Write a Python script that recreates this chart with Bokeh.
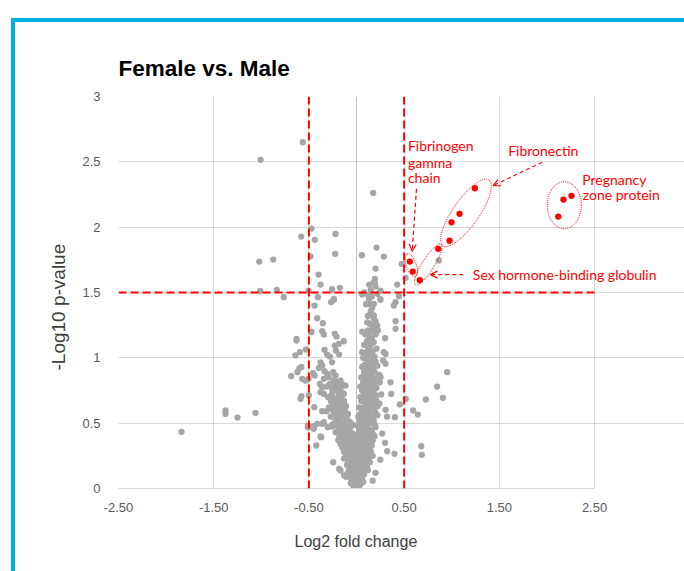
import math
from bokeh.plotting import figure
from bokeh.models import Range1d, FixedTicker, Span, Label, Arrow, OpenHead, InlineStyleSheet, Title
from bokeh.embed import file_html
from bokeh.resources import INLINE

# ---------------- data ----------------
x_ticks = [-2.5, -1.5, -0.5, 0.5, 1.5, 2.5]
x_tick_labels = ["-2.50", "-1.50", "-0.50", "0.50", "1.50", "2.50"]
y_ticks = [0, 0.5, 1, 1.5, 2, 2.5, 3]
y_tick_labels = ["0", "0.5", "1", "1.5", "2", "2.5", "3"]
x_min, x_max = -2.5, 2.5
y_min, y_max = 0, 3

fc_cutoffs = [-0.5, 0.5]
p_cutoff = 1.5

upper_points = [(-0.564, 2.650), (-1.008, 2.515), (0.175, 2.262), (-0.473, 1.989), (-0.581, 1.928),
                (-0.438, 1.903), (-0.221, 1.948), (0.210, 1.844), (-1.022, 1.737), (-0.875, 1.752),
                (-0.483, 1.777), (-0.224, 1.796), (0.056, 1.785), (0.287, 1.775), (0.200, 1.683),
                (0.476, 1.719), (0.515, 1.612), (-0.399, 1.637), (-0.378, 1.561), (0.193, 1.604),
                (0.193, 1.571), (0.133, 1.561), (-0.256, 1.525), (-0.175, 1.536), (-1.012, 1.512),
                (-0.837, 1.520), (-0.764, 1.464), (-0.504, 1.515), (-0.406, 1.464), (0.427, 1.561),
                (0.445, 1.472), (0.08, 1.50), (0.12, 1.48), (0.15, 1.52), (0.22, 1.49), (0.25, 1.45),
                (-0.238, 1.451), (0.865, 1.745), (0.182, 1.578), (0.200, 1.546), (0.060, 1.484),
                (0.252, 1.515)]

left_points = [(-1.838, 0.434), (-1.376, 0.597), (-1.376, 0.571), (-1.250, 0.543), (-1.061, 0.579),
               (-0.630, 1.145), (-0.630, 1.132), (-0.641, 1.018), (-0.595, 1.043), (-0.532, 1.064),
               (-0.686, 0.860), (-0.62, 0.89), (-0.60, 0.92), (-0.58, 0.93), (-0.571, 0.839),
               (-0.536, 0.826), (-0.588, 0.686), (-0.578, 0.706), (-0.504, 0.839), (-0.501, 0.712),
               (-0.476, 1.196), (-0.511, 0.482), (-0.511, 0.469), (-0.444, 0.622), (-0.423, 0.329),
               (-0.448, 0.477), (-0.413, 0.495), (-0.371, 0.393), (-0.245, 0.201), (-0.182, 0.150)]

mid_left_points = [(-0.266, 1.426), (-0.238, 1.444), (-0.441, 1.400), (-0.413, 1.303), (-0.354, 1.265),
                   (-0.473, 1.201), (-0.360, 1.204), (-0.343, 1.178), (-0.228, 1.184), (-0.210, 1.163),
                   (-0.133, 1.127), (-0.186, 1.107), (-0.228, 1.094), (-0.336, 1.061), (-0.308, 1.025),
                   (-0.217, 1.056), (-0.182, 1.025), (-0.378, 0.966), (-0.360, 0.941), (-0.396, 0.923),
                   (-0.280, 1.010), (-0.256, 0.966), (-0.455, 0.882), (-0.441, 0.865), (-0.336, 0.898),
                   (-0.308, 0.878), (-0.291, 0.852), (-0.343, 0.839), (-0.245, 0.890), (-0.221, 0.865),
                   (-0.238, 0.826), (-0.168, 0.826), (-0.150, 0.796), (-0.386, 0.801), (-0.315, 0.780),
                   (-0.360, 0.775), (-0.291, 0.788), (-0.256, 0.763), (-0.203, 0.788), (-0.161, 0.780),
                   (-0.116, 0.788), (-0.378, 0.737), (-0.343, 0.724), (-0.266, 0.712), (-0.238, 0.686),
                   (-0.256, 0.660), (-0.221, 0.643), (-0.150, 0.724), (-0.133, 0.673), (-0.186, 0.635),
                   (-0.360, 0.592), (-0.315, 0.592), (-0.203, 0.584), (-0.168, 0.571), (-0.343, 0.507),
                   (-0.360, 0.495), (-0.465, 0.469), (-0.448, 0.457), (-0.301, 0.469), (-0.256, 0.474),
                   (-0.378, 0.398), (-0.186, 0.380), (-0.168, 0.342), (-0.150, 0.316), (-0.168, 0.138),
                   (-0.13, 0.10), (-0.11, 0.09), (-0.133, 0.724)]

mid_right_points = [(0.130, 1.413), (0.182, 1.413), (0.165, 1.383), (0.252, 1.444), (0.410, 1.426),
                    (0.392, 1.400), (0.147, 1.337), (0.182, 1.324), (0.112, 1.272), (0.200, 1.280),
                    (0.217, 1.247), (0.410, 1.280), (0.410, 1.222), (0.165, 1.209), (0.224, 1.209),
                    (0.200, 1.184), (0.287, 1.043), (0.305, 1.030), (0.060, 1.043), (0.305, 0.954),
                    (0.952, 0.890), (0.357, 0.813), (0.847, 0.780), (0.252, 0.852), (0.907, 0.694),
                    (0.728, 0.681), (0.518, 0.686), (0.455, 0.643), (0.595, 0.597), (0.644, 0.566),
                    (0.403, 0.546), (0.680, 0.324), (0.686, 0.258), (0.322, 0.285), (0.399, 0.265),
                    (0.305, 0.602), (0.364, 0.724), (0.245, 0.813), (0.210, 0.668), (0.30, 1.15),
                    (0.28, 0.98), (0.26, 0.72), (0.32, 0.55), (0.27, 0.42), (0.30, 0.35), (0.25, 0.22),
                    (0.20, 0.12), (0.17, 0.06)]

right_arm = [(0.13, 1.45), (0.16, 1.47), (0.10, 1.41), (0.15, 1.36), (0.12, 1.32), (0.18, 1.30),
             (0.14, 1.26), (0.17, 1.23), (0.12, 1.21), (0.19, 1.25), (0.13, 1.17), (0.16, 1.15),
             (0.11, 1.13), (0.18, 1.12), (0.15, 1.10), (0.12, 1.08), (0.14, 1.06), (0.17, 1.05),
             (0.10, 1.04), (0.13, 1.02), (0.19, 1.01), (0.11, 0.99), (0.14, 0.97), (0.16, 0.96),
             (0.09, 0.95), (0.12, 0.93), (0.18, 0.92), (0.10, 0.91), (0.15, 0.90), (0.22, 0.94),
             (0.08, 0.89), (0.12, 0.88), (0.14, 0.86), (0.17, 0.85), (0.10, 0.84), (0.13, 0.83),
             (0.20, 0.82), (0.07, 0.81), (0.16, 0.80), (0.24, 0.87), (0.09, 0.79), (0.11, 0.77),
             (0.14, 0.76), (0.06, 0.75), (0.18, 0.74), (0.12, 0.73), (0.08, 0.72), (0.15, 0.71),
             (0.21, 0.77), (0.10, 0.70), (0.07, 0.69), (0.13, 0.68), (0.05, 0.67), (0.16, 0.66),
             (0.09, 0.65), (0.11, 0.63), (0.19, 0.62), (0.06, 0.61), (0.14, 0.60), (0.24, 0.65),
             (0.08, 0.59), (0.12, 0.58), (0.04, 0.57), (0.10, 0.55), (0.15, 0.54), (0.06, 0.53),
             (0.18, 0.52), (0.09, 0.51), (0.13, 0.50), (0.22, 0.56), (0.03, 0.52), (0.05, 0.49),
             (0.11, 0.48), (0.07, 0.46), (0.14, 0.45), (0.03, 0.44), (0.09, 0.43), (0.17, 0.42),
             (0.05, 0.41), (0.12, 0.40), (0.20, 0.47), (0.02, 0.39), (0.08, 0.38), (0.06, 0.36),
             (0.11, 0.35), (0.04, 0.34), (0.14, 0.33), (0.09, 0.32), (0.02, 0.31), (0.17, 0.37),
             (0.12, 0.30), (0.05, 0.29), (0.08, 0.27), (0.03, 0.26), (0.10, 0.25), (0.06, 0.24),
             (0.13, 0.23), (0.01, 0.22), (0.08, 0.21), (0.15, 0.28), (0.04, 0.20), (0.02, 0.19),
             (0.06, 0.18), (0.04, 0.16), (0.09, 0.15), (0.01, 0.14), (0.07, 0.13), (0.03, 0.12),
             (0.11, 0.17), (0.05, 0.11), (0.00, 0.10), (0.02, 0.09), (0.04, 0.07), (0.01, 0.06),
             (0.03, 0.05), (0.00, 0.04), (0.02, 0.03), (0.01, 0.02), (0.00, 0.01), (0.05, 0.08)]

right_arm_fill = [(0.06, 1.20), (0.09, 1.18), (0.20, 1.18), (0.08, 1.10), (0.21, 1.07), (0.07, 1.00),
                  (0.17, 0.99), (0.20, 0.97), (0.13, 0.95), (0.06, 0.93), (0.19, 0.89), (0.11, 0.86),
                  (0.05, 0.85), (0.22, 0.84), (0.16, 0.83), (0.13, 0.79), (0.19, 0.78), (0.04, 0.78),
                  (0.16, 0.75), (0.21, 0.71), (0.12, 0.70), (0.04, 0.70), (0.18, 0.68), (0.10, 0.67),
                  (0.22, 0.63), (0.08, 0.62), (0.16, 0.62), (0.03, 0.62), (0.12, 0.61), (0.20, 0.58),
                  (0.06, 0.57), (0.17, 0.56), (0.02, 0.55), (0.11, 0.53), (0.15, 0.50), (0.07, 0.50),
                  (0.19, 0.49), (0.01, 0.48), (0.10, 0.45), (0.16, 0.44), (0.07, 0.42), (0.13, 0.42),
                  (0.01, 0.41), (0.19, 0.40), (0.10, 0.39), (0.15, 0.38), (0.04, 0.37), (0.13, 0.36),
                  (0.07, 0.34), (0.16, 0.33), (0.01, 0.34), (0.11, 0.32), (0.05, 0.31), (0.14, 0.30),
                  (0.09, 0.29), (0.01, 0.28), (0.12, 0.27), (0.06, 0.27), (0.17, 0.25), (0.03, 0.23),
                  (0.11, 0.22), (0.05, 0.22), (0.14, 0.20), (0.09, 0.19), (0.01, 0.17), (0.12, 0.14),
                  (0.04, 0.13), (0.08, 0.11), (0.02, 0.11), (0.06, 0.09), (0.03, 0.08), (0.07, 0.05),
                  (0.04, 0.03), (0.02, 0.01)]

left_arm = [(-0.22, 0.82), (-0.19, 0.80), (-0.24, 0.78), (-0.17, 0.76), (-0.21, 0.75), (-0.14, 0.73),
            (-0.26, 0.72), (-0.19, 0.71), (-0.16, 0.69), (-0.22, 0.68), (-0.13, 0.66), (-0.18, 0.65),
            (-0.24, 0.64), (-0.11, 0.63), (-0.20, 0.62), (-0.15, 0.61), (-0.12, 0.59), (-0.17, 0.58),
            (-0.09, 0.57), (-0.21, 0.56), (-0.14, 0.55), (-0.10, 0.53), (-0.18, 0.52), (-0.07, 0.51),
            (-0.13, 0.50), (-0.09, 0.49), (-0.15, 0.48), (-0.06, 0.47), (-0.11, 0.46), (-0.19, 0.45),
            (-0.08, 0.44), (-0.13, 0.43), (-0.04, 0.42), (-0.10, 0.41), (-0.16, 0.40), (-0.07, 0.39),
            (-0.12, 0.38), (-0.03, 0.37), (-0.09, 0.36), (-0.14, 0.35), (-0.05, 0.34), (-0.10, 0.33),
            (-0.02, 0.32), (-0.07, 0.31), (-0.12, 0.30), (-0.04, 0.29), (-0.09, 0.28), (-0.01, 0.27),
            (-0.06, 0.26), (-0.11, 0.25), (-0.03, 0.24), (-0.08, 0.23), (-0.05, 0.21), (-0.01, 0.20),
            (-0.03, 0.19), (-0.06, 0.18), (-0.02, 0.16), (-0.04, 0.15), (-0.07, 0.14), (-0.01, 0.13),
            (-0.03, 0.12), (-0.05, 0.11), (-0.02, 0.10), (-0.01, 0.09), (-0.03, 0.08), (-0.02, 0.06),
            (-0.01, 0.05), (-0.02, 0.03), (-0.01, 0.02), (-0.03, 0.04)]

left_arm_fill = [(-0.28, 0.80), (-0.25, 0.75), (-0.30, 0.70), (-0.27, 0.67), (-0.19, 0.67), (-0.29, 0.62),
                 (-0.25, 0.60), (-0.17, 0.62), (-0.23, 0.58), (-0.27, 0.55), (-0.16, 0.55), (-0.12, 0.56),
                 (-0.22, 0.52), (-0.25, 0.49), (-0.20, 0.48), (-0.17, 0.46), (-0.04, 0.49), (-0.22, 0.43),
                 (-0.18, 0.41), (-0.07, 0.43), (-0.13, 0.40), (-0.19, 0.37), (-0.16, 0.36), (-0.04, 0.39),
                 (-0.11, 0.35), (-0.08, 0.34), (-0.15, 0.32), (-0.13, 0.28), (-0.05, 0.27), (-0.10, 0.27),
                 (-0.13, 0.23), (-0.09, 0.21), (-0.02, 0.22), (-0.06, 0.20), (-0.10, 0.18), (-0.08, 0.16),
                 (-0.04, 0.17), (-0.06, 0.13), (-0.09, 0.12), (-0.04, 0.10), (-0.07, 0.09), (-0.05, 0.07),
                 (-0.04, 0.05), (-0.06, 0.04), (-0.03, 0.02), (-0.02, 0.00)]

fibronectin = [(1.243, 2.298), (1.082, 2.102), (0.998, 2.037), (0.977, 1.897)]
shbg = [(0.858, 1.834), (0.665, 1.594)]
fibrinogen_gamma = [(0.560, 1.737), (0.591, 1.660)]
pregnancy_zone = [(2.258, 2.240), (2.174, 2.211), (2.119, 2.081)]

# ---------------- figure ----------------
GRAY = "#A6A6A6"
RED = "#FF0000"
GRID = "#D9D9D9"

# frame reaches the right edge of the page so that labels past 2.5 stay visible
p = figure(width=684, height=571, output_backend="svg", toolbar_location=None,
           x_range=Range1d(x_min, x_max + 0.945), y_range=Range1d(y_min, y_max),
           min_border_left=118, min_border_right=0, min_border_top=96, min_border_bottom=83,
           background_fill_color="white", border_fill_color="white")

p.title.text = "Female vs. Male"
p.title.text_font = "Liberation Sans"
p.title.text_font_size = "22.5px"
p.title.text_font_style = "bold"
p.title.text_color = "black"
p.title.align = "left"
p.title.standoff = 31

p.outline_line_color = None

p.xgrid.ticker = FixedTicker(ticks=x_ticks)
p.ygrid.ticker = FixedTicker(ticks=y_ticks)
p.ygrid.bounds = (x_min, x_max)
p.grid.grid_line_color = GRID
p.grid.grid_line_width = 1

for ax in (p.xaxis[0], p.yaxis[0]):
    ax.major_tick_line_color = None
    ax.minor_tick_line_color = None
    ax.major_label_text_font = "Liberation Sans"
    ax.major_label_text_font_size = "13px"
    ax.major_label_text_color = "#595959"

p.xaxis.ticker = FixedTicker(ticks=x_ticks)
p.xaxis.major_label_overrides = dict(zip(x_ticks, x_tick_labels))
p.xaxis.bounds = (x_min, x_max)
p.xaxis.axis_line_color = GRID
p.xaxis.major_label_standoff = 8

p.yaxis.ticker = FixedTicker(ticks=y_ticks)
p.yaxis.major_label_overrides = dict(zip(y_ticks, y_tick_labels))
p.yaxis.axis_line_color = None
p.yaxis.major_label_standoff = 12

# axis titles (side titles, so they can be centred on the data area)
p.add_layout(Title(text="Log2 fold change", align="left", offset=176, standoff=33,
                   text_font="Liberation Sans", text_font_size="16px",
                   text_font_style="normal", text_color="#404040"), "below")
p.add_layout(Title(text="-Log10 p-value", align="left", offset=118, standoff=21,
                   text_font="Liberation Sans", text_font_size="19px",
                   text_font_style="normal", text_color="#404040"), "left")

# vertical value axis crossing at x = 0
p.add_layout(Span(location=0, dimension="height", line_color="#BFBFBF", line_width=1, level="underlay"))

gray = (upper_points + left_points + mid_left_points + mid_right_points +
        right_arm + right_arm_fill + left_arm + left_arm_fill)
p.scatter([g[0] for g in gray], [g[1] for g in gray], size=6.3, fill_color=GRAY, line_color=None)

red = fibronectin + shbg + fibrinogen_gamma + pregnancy_zone
p.scatter([r[0] for r in red], [r[1] for r in red], size=6.3, fill_color=RED, line_color=None)

# cutoff lines
for loc in fc_cutoffs:
    p.add_layout(Span(location=loc, dimension="height", line_color=RED, line_width=2, line_dash="8 4"))
p.segment(x0=[x_min], y0=[p_cutoff], x1=[x_max], y1=[p_cutoff],
          line_color=RED, line_width=2, line_dash="8 4")

# circled groups
p.ellipse(x=[1.150, 2.183, 0.576, 0.753], y=[2.110, 2.168, 1.709, 1.714],
          width=[80, 34, 24, 48], height=[26, 47, 10, 12],
          angle=[math.radians(55), 0, math.radians(110), math.radians(57.5)],
          width_units="screen", height_units="screen",
          fill_color=None, line_color=RED, line_width=1, line_dash="1 1")

# labels
lab = dict(text_font="Lato", text_font_size="14px", text_color=RED, text_baseline="middle")
p.add_layout(Label(x=0.54, y=2.624, text="Fibrinogen", **lab))
p.add_layout(Label(x=0.54, y=2.497, text="gamma", **lab))
p.add_layout(Label(x=0.54, y=2.377, text="chain", **lab))
p.add_layout(Label(x=1.593, y=2.586, text="Fibronectin", **lab))
p.add_layout(Label(x=2.371, y=2.362, text="Pregnancy", **lab))
p.add_layout(Label(x=2.377, y=2.249, text="zone protein", **lab))
p.add_layout(Label(x=1.222, y=1.637, text="Sex hormone-binding globulin", **lab))

# arrows
def arrow(x0, y0, x1, y1):
    p.add_layout(Arrow(end=OpenHead(size=7, line_color=RED, line_width=1.2),
                       x_start=x0, y_start=y0, x_end=x1, y_end=y1,
                       line_color=RED, line_width=1.2, line_dash="4 3"))

arrow(1.951, 2.497, 1.436, 2.318)
arrow(0.630, 2.293, 0.585, 1.816)
arrow(1.121, 1.637, 0.777, 1.637)

# blue slide frame (left and top edges)
p.stylesheets = [InlineStyleSheet(css="""
:host { position: relative; }
:host::after {
  content: ''; position: absolute; left: 11px; top: 18px; right: 0; bottom: 0;
  border-left: 4px solid #00B2E3; border-top: 4px solid #00B2E3;
  pointer-events: none; z-index: 10;
}
""")]

open("out.html", "w").write(file_html(p, INLINE))
